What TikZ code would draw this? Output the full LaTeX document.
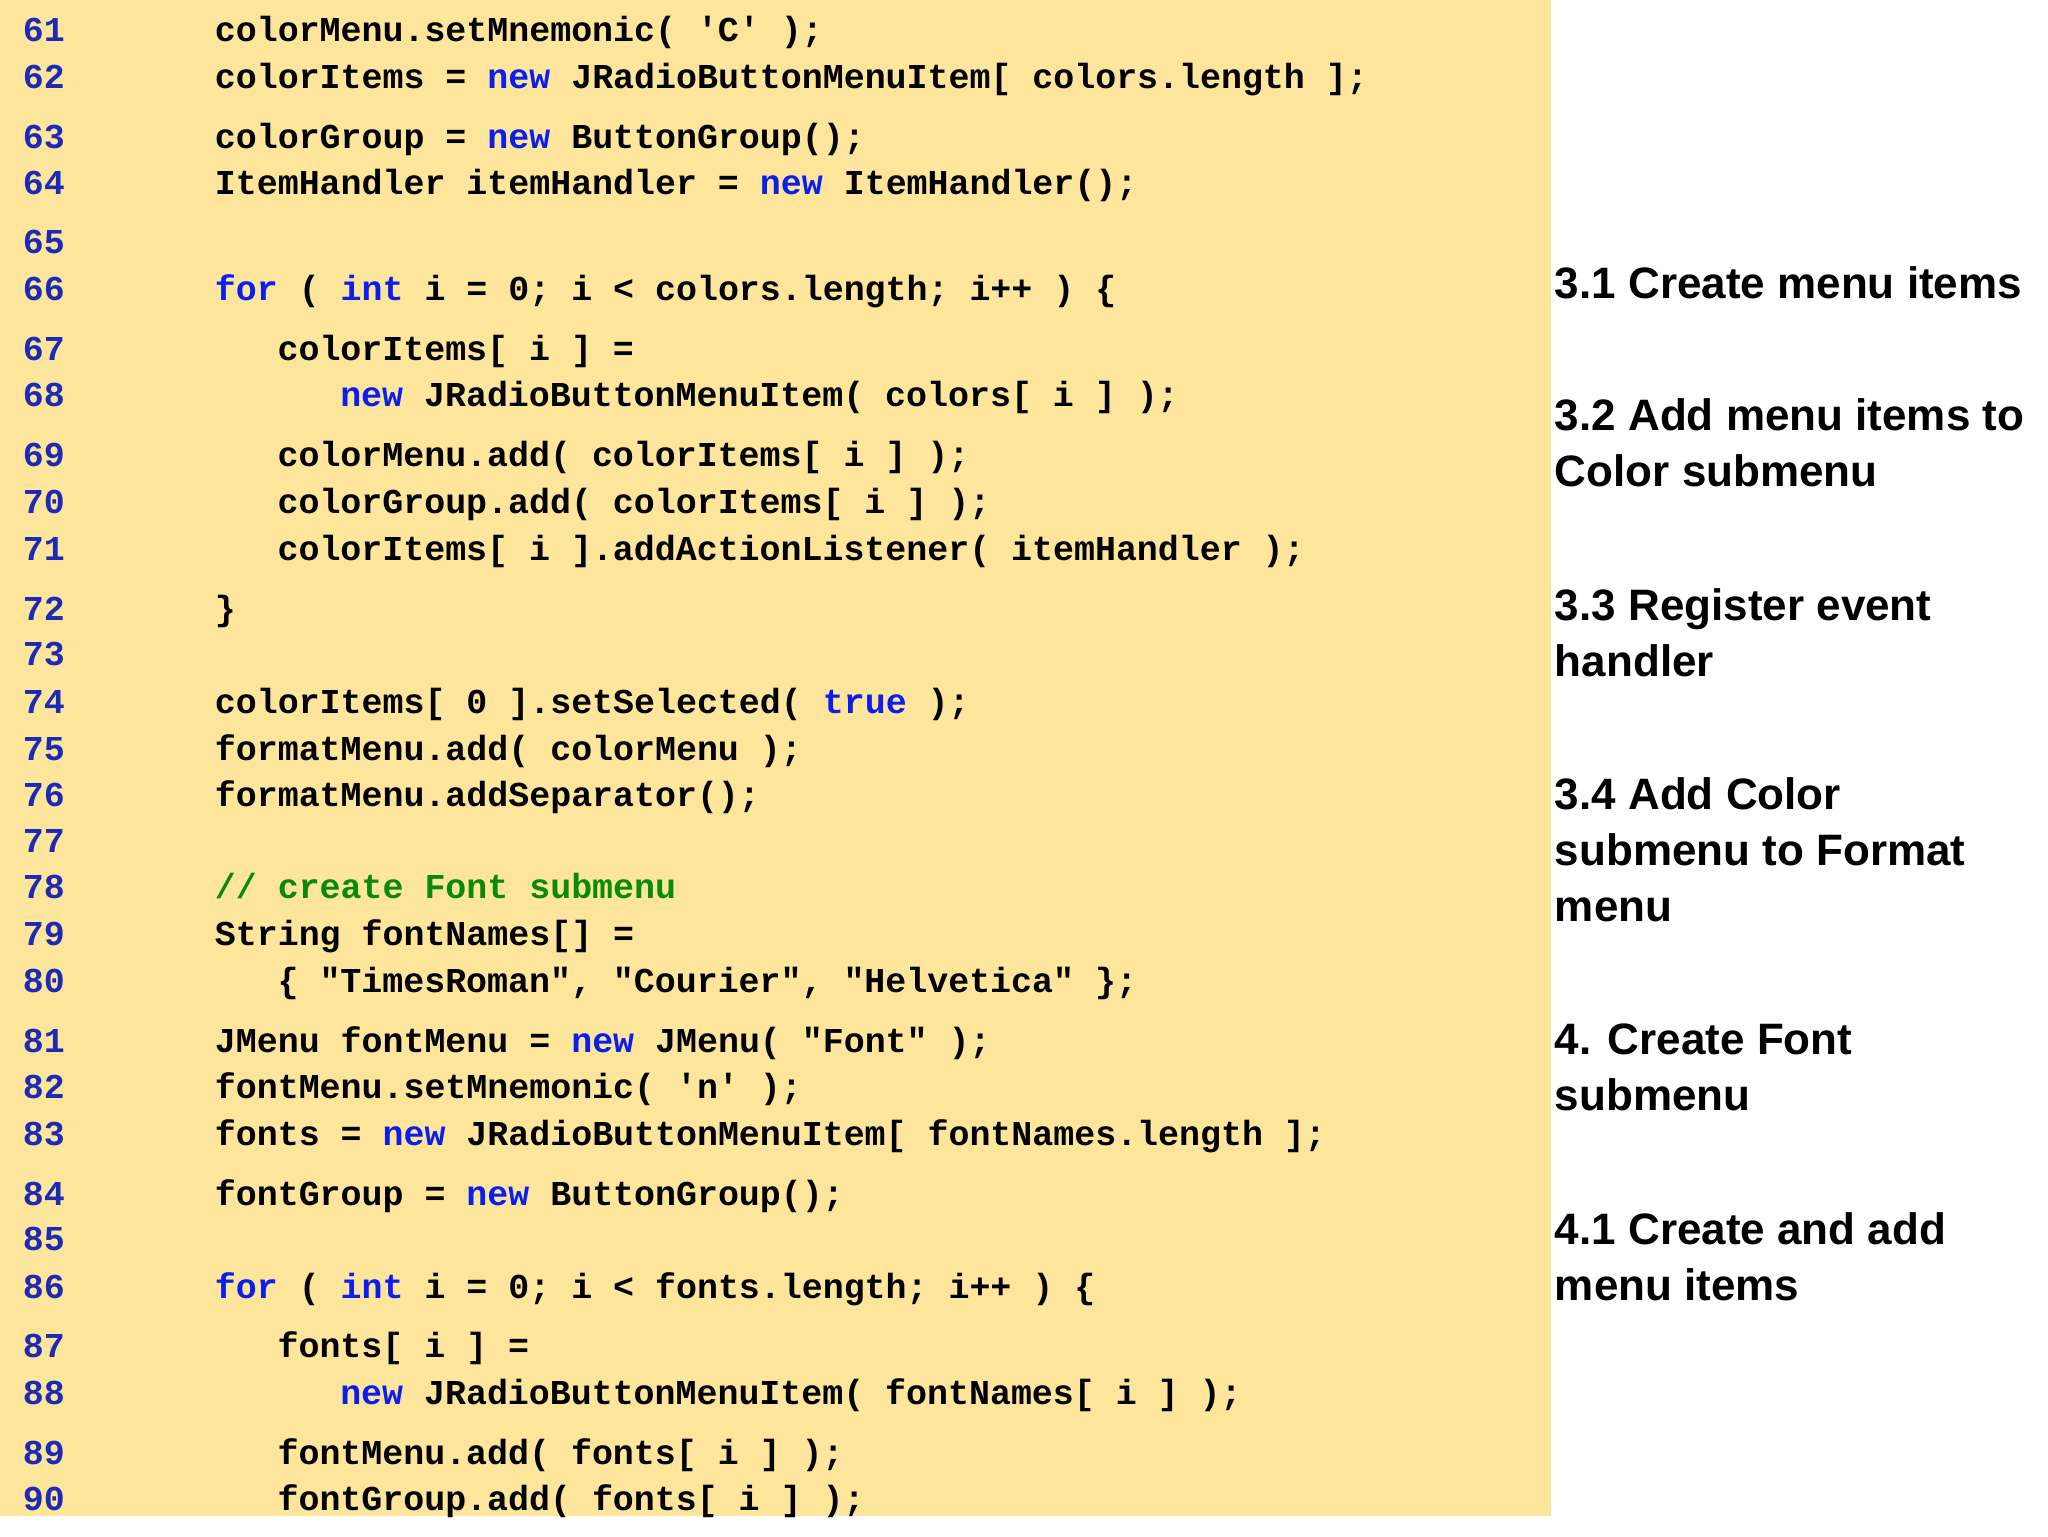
\documentclass[tikz,border=0pt]{standalone}
\usepackage{fontspec}
\setmainfont{Liberation Sans}
\newfontfamily\codef{Liberation Mono}
\definecolor{bgy}{HTML}{FEE59C}
\definecolor{kwb}{HTML}{0A1EF0}
\definecolor{lnb}{HTML}{1C2AB8}
\definecolor{cmg}{HTML}{0A8A0A}
\newcommand{\kw}[1]{\textcolor{kwb}{#1}}
\tikzset{
 code/.style={anchor=base west,inner sep=0pt,font=\codef\bfseries\fontsize{26.2}{30}\selectfont},
 lnum/.style={anchor=base west,inner sep=0pt,text=lnb,font=\codef\bfseries\fontsize{26.2}{30}\selectfont},
 lab/.style={anchor=base west,inner sep=0pt,align=left,font=\bfseries\fontsize{33}{42}\selectfont}
}
\begin{document}
\begin{tikzpicture}[x=1pt,y=-1pt]
\useasboundingbox (0,0) rectangle (1536,1152);
\fill[bgy] (0,0) rectangle (1163,1137);
\foreach \n/\y in {61/31,62/66,63/111,64/146,65/190,66/225,67/270,68/305,69/350,70/385,71/420,72/465,73/499,74/535,75/570,76/605,77/639,78/674,79/709,80/744,81/789,82/824,83/859,84/904,85/938,86/974,87/1018,88/1053,89/1098,90/1133}
  \node[lnum] (n\n) at (17,\y) {\n};
\node[code] (c61) at (161,31) {colorMenu.setMnemonic( 'C' );};
\node[code] (c62) at (161,66) {colorItems = \kw{new} JRadioButtonMenuItem[ colors.length ];};
\node[code] (c63) at (161,111) {colorGroup = \kw{new} ButtonGroup();};
\node[code] (c64) at (161,146) {ItemHandler itemHandler = \kw{new} ItemHandler();};
\node[code] (c66) at (161,225) {\kw{for} ( \kw{int} i = 0; i < colors.length; i++ ) \{};
\node[code] (c67) at (208,270) {colorItems[ i ] =};
\node[code] (c68) at (255,305) {\kw{new} JRadioButtonMenuItem( colors[ i ] );};
\node[code] (c69) at (208,350) {colorMenu.add( colorItems[ i ] );};
\node[code] (c70) at (208,385) {colorGroup.add( colorItems[ i ] );};
\node[code] (c71) at (208,420) {colorItems[ i ].addActionListener( itemHandler );};
\node[code] (c72) at (161,465) {\}};
\node[code] (c74) at (161,535) {colorItems[ 0 ].setSelected( \kw{true} );};
\node[code] (c75) at (161,570) {formatMenu.add( colorMenu );};
\node[code] (c76) at (161,605) {formatMenu.addSeparator();};
\node[code,text=cmg] (c78) at (161,674) {// create Font submenu};
\node[code] (c79) at (161,709) {String fontNames[] =};
\node[code] (c80) at (208,744) {\{ "TimesRoman", "Courier", "Helvetica" \};};
\node[code] (c81) at (161,789) {JMenu fontMenu = \kw{new} JMenu( "Font" );};
\node[code] (c82) at (161,824) {fontMenu.setMnemonic( 'n' );};
\node[code] (c83) at (161,859) {fonts = \kw{new} JRadioButtonMenuItem[ fontNames.length ];};
\node[code] (c84) at (161,904) {fontGroup = \kw{new} ButtonGroup();};
\node[code] (c86) at (161,974) {\kw{for} ( \kw{int} i = 0; i < fonts.length; i++ ) \{};
\node[code] (c87) at (208,1018) {fonts[ i ] =};
\node[code] (c88) at (255,1053) {\kw{new} JRadioButtonMenuItem( fontNames[ i ] );};
\node[code] (c89) at (208,1098) {fontMenu.add( fonts[ i ] );};
\node[code] (c90) at (208,1133) {fontGroup.add( fonts[ i ] );};
\node[lab] (l31) at (1166,224) {3.1 Create menu items};
\node[lab] (l32) at (1166,365) {3.2 Add menu items to\\Color submenu};
\node[lab] (l33) at (1166,507) {3.3 Register event\\handler};
\node[lab] (l34) at (1166,691) {3.4 Add Color\\submenu to Format\\menu};
\node[lab] (l4) at (1166,833) {4. Create Font\\submenu};
\node[lab] (l41) at (1166,975) {4.1 Create and add\\menu items};
\end{tikzpicture}
\end{document}
